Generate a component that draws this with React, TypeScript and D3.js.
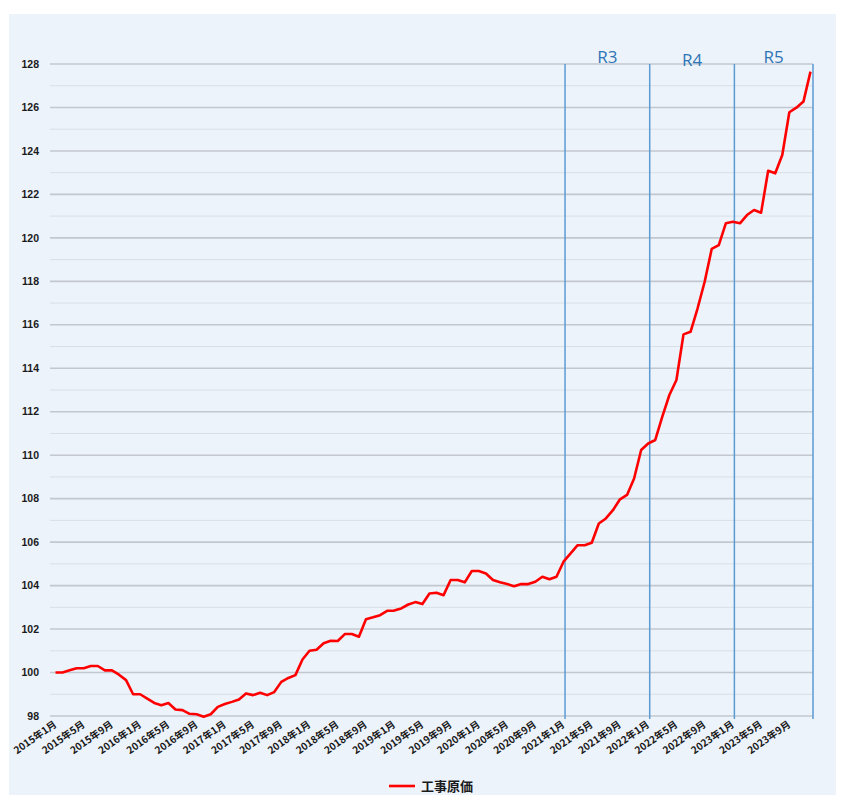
import React from 'react';
import * as d3 from 'd3';

const years = [2015, 2016, 2017, 2018, 2019, 2020, 2021, 2022, 2023];
const monthNames = ['1月', '2月', '3月', '4月', '5月', '6月', '7月', '8月', '9月', '10月', '11月', '12月'];

const values2015 = [100.0, 100.0, 100.1, 100.2, 100.2, 100.3, 100.3, 100.1, 100.1, 99.9, 99.65, 99.0];
const values2016 = [99.0, 98.8, 98.6, 98.5, 98.6, 98.3, 98.27, 98.1, 98.08, 97.97, 98.08, 98.42];
const values2017 = [98.55, 98.65, 98.76, 99.04, 98.96, 99.07, 98.96, 99.1, 99.57, 99.75, 99.88, 100.6];
const values2018 = [101.0, 101.05, 101.35, 101.46, 101.45, 101.77, 101.77, 101.65, 102.45, 102.54, 102.64, 102.84];
const values2019 = [102.85, 102.95, 103.13, 103.24, 103.15, 103.64, 103.67, 103.56, 104.26, 104.26, 104.15, 104.67];
const values2020 = [104.67, 104.56, 104.26, 104.15, 104.07, 103.97, 104.07, 104.07, 104.18, 104.41, 104.29, 104.41];
const values2021 = [105.1, 105.48, 105.86, 105.86, 105.97, 106.86, 107.09, 107.47, 107.97, 108.17, 108.93, 110.24];
const values2022 = [110.54, 110.7, 111.77, 112.77, 113.46, 115.56, 115.68, 116.76, 117.98, 119.49, 119.67, 120.67];
const values2023 = [120.74, 120.67, 121.05, 121.28, 121.16, 123.09, 122.97, 123.81, 125.78, 125.99, 126.27, 127.65];

const seriesName = '工事原価';
const yTicks = [98, 100, 102, 104, 106, 108, 110, 112, 114, 116, 118, 120, 122, 124, 126, 128];
const tickLabels = [
  '2015年1月', '2015年5月', '2015年9月', '2016年1月', '2016年5月', '2016年9月',
  '2017年1月', '2017年5月', '2017年9月', '2018年1月', '2018年5月', '2018年9月',
  '2019年1月', '2019年5月', '2019年9月', '2020年1月', '2020年5月', '2020年9月',
  '2021年1月', '2021年5月', '2021年9月', '2022年1月', '2022年5月', '2022年9月',
  '2023年1月', '2023年5月', '2023年9月',
];
const regionLabels = ['R3', 'R4', 'R5'];
const regionStarts = ['2021年1月', '2022年1月', '2023年1月'];

export default function App() {
  const W = 844;
  const H = 795;
  const plotLeft = 50;
  const plotRight = 813;
  const categories = years.flatMap((yr) => monthNames.map((m) => `${yr}年${m}`));
  const values = [
    ...values2015, ...values2016, ...values2017, ...values2018, ...values2019,
    ...values2020, ...values2021, ...values2022, ...values2023,
  ];
  const x = d3.scalePoint<string>().domain(categories).range([55.5, 810.5]);
  const y = d3.scaleLinear().domain([98, 128]).range([716, 64]);
  const line = d3
    .line<number>()
    .x((_, i) => x(categories[i]) as number)
    .y((d) => y(d))
    .curve(d3.curveLinear);
  const gridVals = d3.range(98, 129, 1);
  const regionX = regionStarts.map((c) => (x(c) as number) + 1.5);
  const regionEdges = [...regionX, plotRight];

  return (
    <svg
      width={W}
      height={H}
      style={{ position: 'absolute', left: 0, top: 0, display: 'block' }}
    >
      <rect x={0} y={0} width={W} height={H} fill="#ffffff" />
      <rect x={9} y={14} width={827} height={H - 14} fill="#edf3fa" />
      {gridVals.map((v) => {
        const major = v % 2 === 0;
        return (
          <line
            key={v}
            x1={plotLeft}
            x2={plotRight}
            y1={y(v)}
            y2={y(v)}
            stroke={major ? '#c3c7cf' : '#d9dfe7'}
            strokeWidth={major ? 1.6 : 1}
          />
        );
      })}
      {yTicks.map((t) => (
        <text
          key={t}
          x={39}
          y={y(t)}
          dy="0.35em"
          textAnchor="end"
          fontFamily="Liberation Sans, Arial, sans-serif"
          fontWeight="bold"
          fontSize={10.5}
          fill="#1a1a1a"
        >
          {t}
        </text>
      ))}
      {regionEdges.map((rx, i) => (
        <line
          key={i}
          x1={rx}
          x2={rx}
          y1={y(128)}
          y2={719}
          stroke="#5b9bd5"
          strokeWidth={1.5}
        />
      ))}
      {regionLabels.map((lab, i) => (
        <text
          key={lab}
          x={(regionEdges[i] + regionEdges[i + 1]) / 2}
          y={i === 1 ? 66 : 63}
          textAnchor="middle"
          fontFamily="Open Sans, Noto Sans, sans-serif"
          fontSize={17}
          fill="#2e75b6"
        >
          {lab}
        </text>
      ))}
      <path
        d={line(values) || ''}
        fill="none"
        stroke="#ff0000"
        strokeWidth={2.6}
        strokeLinejoin="round"
      />
      {tickLabels.map((t) => {
        const tx = x(t) as number;
        return (
          <text
            key={t}
            transform={`translate(${tx + 2},${726}) rotate(-35)`}
            textAnchor="end"
            fontFamily="Noto Sans CJK JP, sans-serif"
            fontWeight="bold"
            fontSize={10}
            fill="#1a1a1a"
          >
            {t}
          </text>
        );
      })}
      <line x1={389} x2={415} y1={786} y2={786} stroke="#ff0000" strokeWidth={2.6} />
      <text
        x={421}
        y={786}
        dy="0.35em"
        fontFamily="Noto Sans CJK JP, sans-serif"
        fontWeight="bold"
        fontSize={13}
        fill="#1a1a1a"
      >
        {seriesName}
      </text>
    </svg>
  );
}
